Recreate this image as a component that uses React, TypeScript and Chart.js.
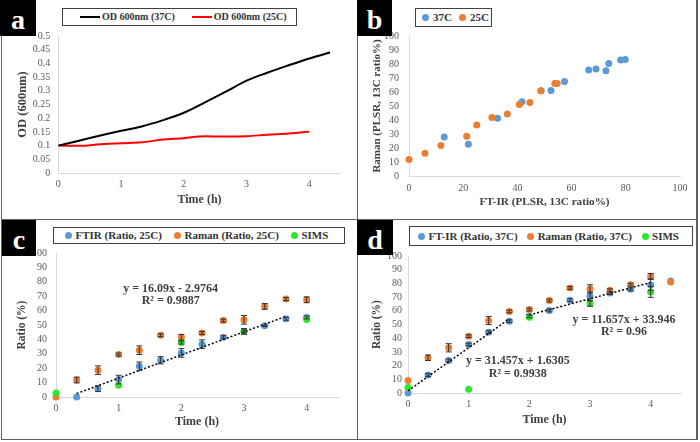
import React, { useEffect, useRef } from "react";
import { Chart, registerables } from "chart.js";

Chart.register(...registerables);

const SERIF = '"Liberation Serif", "Times New Roman", Times, serif';
Chart.defaults.font.family = SERIF;

const BLUE = "#5B9BD5";
const ORANGE = "#ED7D31";
const GREEN = "#2EE62E";
const TICK = "#595959";
const TITLE = "#404040";
const AXIS = "#D9D9D9";
const FRAME = "#606060";

// ---------- Panel a : OD 600nm growth curves ----------
const aTime37 = [0, 0.33, 0.67, 1, 1.33, 1.67, 2, 2.33, 2.67, 3, 3.33, 3.67, 4, 4.33];
const aOd37 = [0.1, 0.118, 0.137, 0.154, 0.17, 0.193, 0.22, 0.257, 0.297, 0.337, 0.366, 0.393, 0.418, 0.44];
const aTime25 = [0, 0.33, 0.67, 1, 1.33, 1.67, 2, 2.33, 2.67, 3, 3.33, 3.67, 4];
const aOd25 = [0.1, 0.099, 0.105, 0.109, 0.112, 0.122, 0.127, 0.134, 0.133, 0.134, 0.14, 0.144, 0.151];
const aLabels = ["OD 600nm (37C)", "OD 600nm (25C)"];

// ---------- Panel b : Raman vs FT-IR ----------
const b37x = [13.0, 21.9, 32.7, 41.7, 48.8, 52.4, 57.4, 66.3, 69.0, 72.7, 73.7, 78.1, 79.8];
const b37y = [27.9, 22.7, 41.3, 53.0, 60.9, 61.1, 67.5, 75.7, 76.4, 75.2, 80.4, 82.8, 83.3];
const b25x = [0, 5.9, 11.8, 21.3, 25.0, 30.6, 36.3, 40.7, 44.6, 48.6, 53.8, 54.7];
const b25y = [11.7, 16.2, 21.7, 28.4, 36.5, 41.8, 44.2, 51.1, 52.5, 60.9, 66.1, 66.1];
const bLabels = ["37C", "25C"];

// ---------- Panel c : 25C ratios ----------
const cFtirT = [0.33, 0.67, 1, 1.33, 1.67, 2, 2.33, 2.67, 3, 3.33, 3.67, 4];
const cFtir = [0, 5.8, 12.1, 21.3, 25.5, 30.6, 36.7, 41.5, 45.5, 49.4, 54.3, 55.2];
const cFtirErr = [0, 2, 3, 3, 2.5, 3, 3, 1, 2, 0.5, 1, 1];
const cRamanT = [0, 0.33, 0.67, 1, 1.33, 1.67, 2, 2.33, 2.67, 3, 3.33, 3.67, 4];
const cRaman = [0, 11.8, 18.6, 29.5, 32.5, 42.9, 41.5, 44.5, 53.1, 53.6, 62.9, 68.0, 67.5];
const cRamanErr = [0, 2, 3, 1, 3, 1, 2, 1, 1, 3, 2, 1, 2];
const cSimsT = [0, 1, 2, 3, 4];
const cSims = [2.8, 8.1, 37.8, 45.5, 53.8];
const cSimsErr = [0, 0, 1, 1, 0];
const cTrendT = [0.33, 3.67];
const cTrend = [2.4, 56.0];
const cEq = ["y = 16.09x - 2.9764", "R² = 0.9887"];
const cLabels = ["FTIR (Ratio, 25C)", "Raman (Ratio, 25C)", "SIMS"];

// ---------- Panel d : 37C ratios ----------
const dTime = [0, 0.33, 0.67, 1, 1.33, 1.67, 2, 2.33, 2.67, 3, 3.33, 3.67, 4, 4.33];
const dFtir = [0, 13.1, 23.8, 35.4, 44.4, 52.4, 56.0, 60.2, 67.7, 70.6, 73.0, 75.7, 78.9, 81.8];
const dFtirErr = [0, 1, 1, 1, 1, 1, 1, 1, 1, 3, 1, 1, 4, 0];
const dRaman = [9.2, 25.7, 33.0, 41.5, 52.9, 59.5, 60.9, 67.5, 76.7, 76.0, 75.0, 79.1, 85.2, 81.1];
const dRamanErr = [0, 2, 3, 1, 3, 1, 1, 1, 1, 3, 1, 1, 2, 0];
const dSimsT = [0, 1, 2, 3, 4];
const dSims = [4.1, 2.7, 55.3, 65.3, 73.8];
const dSimsErr = [0, 0, 0, 2, 4];
const dTrend1T = [0, 1.67];
const dTrend1 = [1.6, 54.1];
const dTrend2T = [2, 4];
const dTrend2 = [57.0, 80.6];
const dEqA = ["y = 11.657x + 33.946", "R² = 0.96"];
const dEqB = ["y = 31.457x + 1.6305", "R² = 0.9938"];
const dLabels = ["FT-IR (Ratio, 37C)", "Raman (Ratio, 37C)", "SIMS"];

type Box = { left: number; top: number; w: number; h: number };
type Area = { x0: number; x1: number; y0: number; y1: number };
type AxisCfg = { min: number; max: number; step: number; title: string; size: number; intOnly?: boolean };

const pts = (xs: number[], ys: number[]) => xs.map((x, i) => ({ x, y: ys[i] }));

const extrasPlugin = {
  id: "extras",
  afterDatasetsDraw(chart: any, _args: any, opts: any) {
    const { ctx } = chart;
    const xs = chart.scales.x;
    const ys = chart.scales.y;
    ctx.save();
    chart.data.datasets.forEach((ds: any) => {
      if (!ds.errors) return;
      ctx.strokeStyle = "#333";
      ctx.lineWidth = 1;
      ds.data.forEach((p: any, i: number) => {
        const e = ds.errors[i];
        if (!e) return;
        const px = xs.getPixelForValue(p.x);
        const t = ys.getPixelForValue(p.y + e);
        const b = ys.getPixelForValue(p.y - e);
        ctx.beginPath();
        ctx.moveTo(px, t);
        ctx.lineTo(px, b);
        ctx.moveTo(px - 3, t);
        ctx.lineTo(px + 3, t);
        ctx.moveTo(px - 3, b);
        ctx.lineTo(px + 3, b);
        ctx.stroke();
      });
    });
    const notes = (opts && opts.notes) || [];
    ctx.fillStyle = TITLE;
    ctx.font = `bold 12px ${SERIF}`;
    ctx.textAlign = "center";
    ctx.textBaseline = "middle";
    notes.forEach((n: any) => {
      ctx.fillText(n.text, xs.getPixelForValue(n.x), ys.getPixelForValue(n.y));
    });
    ctx.restore();
  },
};

function fmtNum(v: number) {
  return String(Number(Number(v).toFixed(2)));
}

function baseOptions(
  box: Box,
  area: Area,
  t: { yTitleX: number; xTitleY: number; yPad: number; xPad: number },
  xs: AxisCfg,
  ys: AxisCfg,
  notes: any[] = []
) {
  const tickFont = { family: SERIF, size: 10 };
  return {
    responsive: false,
    animation: false as const,
    layout: {
      padding: { top: area.y0 - box.top, right: box.left + box.w - area.x1, left: 0, bottom: 0 },
    },
    plugins: {
      legend: { display: false },
      tooltip: { enabled: false },
      extras: { notes },
    },
    scales: {
      x: {
        type: "linear" as const,
        position: "bottom" as const,
        min: xs.min,
        max: xs.max,
        ticks: {
          stepSize: xs.step,
          color: TICK,
          font: tickFont,
          padding: t.xPad,
          maxRotation: 0,
          autoSkip: false,
          callback: (v: any) => (xs.intOnly && !Number.isInteger(Number(v)) ? "" : fmtNum(v)),
        },
        grid: { display: false, drawTicks: false },
        border: { display: true, color: AXIS, width: 1 },
        title: {
          display: true,
          text: xs.title,
          color: TITLE,
          font: { family: SERIF, size: xs.size, weight: "bold" as const },
          padding: { top: 0, bottom: box.top + box.h - t.xTitleY - (xs.size * 1.2) / 2 },
        },
        afterFit: (s: any) => {
          s.height = box.top + box.h - area.y1;
        },
      },
      y: {
        type: "linear" as const,
        position: "left" as const,
        min: ys.min,
        max: ys.max,
        ticks: {
          stepSize: ys.step,
          color: TICK,
          font: tickFont,
          padding: t.yPad,
          autoSkip: false,
          callback: (v: any) => fmtNum(v),
        },
        grid: { display: false, drawTicks: false },
        border: { display: true, color: AXIS, width: 1 },
        title: {
          display: true,
          text: ys.title,
          color: TITLE,
          font: { family: SERIF, size: ys.size, weight: "bold" as const },
          padding: { top: t.yTitleX - box.left - (ys.size * 1.2) / 2, bottom: 0 },
        },
        afterFit: (s: any) => {
          s.width = area.x0 - box.left;
        },
      },
    },
  };
}

const dot = (color: string, order: number) => ({
  showLine: false,
  pointRadius: 3.5,
  pointHoverRadius: 3.5,
  pointBorderWidth: 0,
  backgroundColor: color,
  borderColor: color,
  order,
  clip: false as const,
});

const trend = (data: any[]) => ({
  label: "trend",
  data,
  showLine: true,
  borderColor: "#000",
  borderWidth: 1.5,
  borderDash: [2, 2],
  pointRadius: 0,
  order: -1,
});

// ---------- layouts ----------
const BOX_A: Box = { left: 2, top: 0, w: 354, h: 218 };
const AREA_A: Area = { x0: 58.3, x1: 340.7, y0: 36, y1: 173 };
const BOX_B: Box = { left: 359, top: 0, w: 337, h: 218 };
const AREA_B: Area = { x0: 409, x1: 680, y0: 36, y1: 176 };
const BOX_C: Box = { left: 2, top: 220, w: 354, h: 218 };
const AREA_C: Area = { x0: 56, x1: 338, y0: 253, y1: 397 };
const BOX_D: Box = { left: 359, top: 220, w: 337, h: 218 };
const AREA_D: Area = { x0: 408, x1: 681, y0: 256, y1: 393 };

const makeA = () => ({
  type: "scatter" as const,
  data: {
    datasets: [
      {
        label: aLabels[0],
        data: pts(aTime37, aOd37),
        showLine: true,
        borderColor: "#000000",
        borderWidth: 2,
        pointRadius: 0,
        cubicInterpolationMode: "monotone" as const,
      },
      {
        label: aLabels[1],
        data: pts(aTime25, aOd25),
        showLine: true,
        borderColor: "#FF0000",
        borderWidth: 2,
        pointRadius: 0,
        cubicInterpolationMode: "monotone" as const,
      },
    ],
  },
  options: baseOptions(
    BOX_A,
    AREA_A,
    { yTitleX: 23, xTitleY: 200, yPad: 8, xPad: 5 },
    { min: 0, max: 4.5, step: 1, title: "Time (h)", size: 12, intOnly: true },
    { min: 0, max: 0.5, step: 0.05, title: "OD (600nm)", size: 12.5 }
  ),
  plugins: [extrasPlugin],
});

const makeB = () => ({
  type: "scatter" as const,
  data: {
    datasets: [
      { label: bLabels[0], data: pts(b37x, b37y), ...dot(BLUE, 1) },
      { label: bLabels[1], data: pts(b25x, b25y), ...dot(ORANGE, 0) },
    ],
  },
  options: baseOptions(
    BOX_B,
    AREA_B,
    { yTitleX: 377, xTitleY: 202, yPad: 10, xPad: 6 },
    { min: 0, max: 100, step: 20, title: "FT-IR (PLSR, 13C ratio%)", size: 11.2 },
    { min: 0, max: 100, step: 10, title: "Raman (PLSR, 13C ratio%)", size: 11 }
  ),
  plugins: [extrasPlugin],
});

const makeC = () => ({
  type: "scatter" as const,
  data: {
    datasets: [
      { label: cLabels[0], data: pts(cFtirT, cFtir), errors: cFtirErr, ...dot(BLUE, 2) },
      { label: cLabels[1], data: pts(cRamanT, cRaman), errors: cRamanErr, ...dot(ORANGE, 1) },
      { label: cLabels[2], data: pts(cSimsT, cSims), errors: cSimsErr, ...dot(GREEN, 0) },
      trend(pts(cTrendT, cTrend)),
    ],
  },
  options: baseOptions(
    BOX_C,
    AREA_C,
    { yTitleX: 22, xTitleY: 422, yPad: 9, xPad: 5 },
    { min: 0, max: 4.5, step: 1, title: "Time (h)", size: 12, intOnly: true },
    { min: 0, max: 100, step: 10, title: "Ratio (%)", size: 11.5 },
    [
      { text: cEq[0], x: 1.83, y: 75 },
      { text: cEq[1], x: 1.83, y: 66.7 },
    ]
  ),
  plugins: [extrasPlugin],
});

const makeD = () => ({
  type: "scatter" as const,
  data: {
    datasets: [
      { label: dLabels[0], data: pts(dTime, dFtir), errors: dFtirErr, ...dot(BLUE, 2) },
      { label: dLabels[1], data: pts(dTime, dRaman), errors: dRamanErr, ...dot(ORANGE, 1) },
      { label: dLabels[2], data: pts(dSimsT, dSims), errors: dSimsErr, ...dot(GREEN, 0) },
      trend(pts(dTrend1T, dTrend1)),
      trend(pts(dTrend2T, dTrend2)),
    ],
  },
  options: baseOptions(
    BOX_D,
    AREA_D,
    { yTitleX: 377, xTitleY: 420, yPad: 6, xPad: 5 },
    { min: 0, max: 4.5, step: 1, title: "Time (h)", size: 12, intOnly: true },
    { min: 0, max: 100, step: 10, title: "Ratio (%)", size: 11.5 },
    [
      { text: dEqA[0], x: 3.56, y: 53.3 },
      { text: dEqA[1], x: 3.56, y: 44.5 },
      { text: dEqB[0], x: 1.81, y: 23.4 },
      { text: dEqB[1], x: 1.81, y: 13.6 },
    ]
  ),
  plugins: [extrasPlugin],
});

function ChartPanel({ box, make }: { box: Box; make: () => any }) {
  const ref = useRef<HTMLCanvasElement | null>(null);
  useEffect(() => {
    if (!ref.current) return;
    const chart = new Chart(ref.current, make());
    return () => chart.destroy();
  }, []);
  return (
    <canvas
      ref={ref}
      width={box.w}
      height={box.h}
      style={{ position: "absolute", left: box.left, top: box.top, width: box.w, height: box.h }}
    />
  );
}

type LegendItem = { label: string; color: string; kind: "line" | "dot" };

function Legend(props: {
  left: number;
  top: number;
  width: number;
  height: number;
  fontSize: number;
  padLeft: number;
  gap: number;
  markerGap: number;
  items: LegendItem[];
}) {
  const { left, top, width, height, fontSize, padLeft, gap, markerGap, items } = props;
  return (
    <div
      style={{
        position: "absolute",
        left,
        top,
        width,
        height,
        boxSizing: "border-box",
        border: "1.5px solid #404040",
        background: "#fff",
        display: "flex",
        alignItems: "center",
        paddingLeft: padLeft,
        gap,
        fontFamily: SERIF,
        fontWeight: "bold",
        fontSize,
        color: "#333",
        whiteSpace: "nowrap",
        lineHeight: 1,
      }}
    >
      {items.map((it) => (
        <div key={it.label} style={{ display: "flex", alignItems: "center", gap: markerGap }}>
          {it.kind === "line" ? (
            <span style={{ display: "inline-block", width: 20, height: 2, background: it.color }} />
          ) : (
            <span
              style={{ display: "inline-block", width: 7, height: 7, borderRadius: "50%", background: it.color }}
            />
          )}
          <span>{it.label}</span>
        </div>
      ))}
    </div>
  );
}

function Tag({ left, top, width, height, text }: { left: number; top: number; width: number; height: number; text: string }) {
  return (
    <div
      style={{
        position: "absolute",
        left,
        top,
        width,
        height,
        boxSizing: "border-box",
        paddingTop: 4,
        background: "#000",
        color: "#fff",
        fontFamily: SERIF,
        fontWeight: "bold",
        fontSize: 28,
        lineHeight: 1,
        display: "flex",
        alignItems: "center",
        justifyContent: "center",
      }}
    >
      {text}
    </div>
  );
}

function Line({ left, top, width, height }: { left: number; top: number; width: number; height: number }) {
  return <div style={{ position: "absolute", left, top, width, height, background: FRAME }} />;
}

export default function App() {
  return (
    <div
      style={{
        position: "fixed",
        left: 0,
        top: 0,
        width: 700,
        height: 442,
        background: "#fff",
        overflow: "hidden",
      }}
    >
      <ChartPanel box={BOX_A} make={makeA} />
      <ChartPanel box={BOX_B} make={makeB} />
      <ChartPanel box={BOX_C} make={makeC} />
      <ChartPanel box={BOX_D} make={makeD} />

      <Line left={0.5} top={0} width={1.5} height={440} />
      <Line left={696} top={0} width={1.5} height={440} />
      <Line left={0.5} top={438.5} width={697} height={1.5} />
      <Line left={0.5} top={218.5} width={697} height={1.5} />
      <Line left={356.5} top={0} width={1.5} height={440} />

      <Tag left={0} top={0} width={36} height={36} text="a" />
      <Tag left={357} top={0} width={35} height={36} text="b" />
      <Tag left={2} top={220} width={34} height={36} text="c" />
      <Tag left={357} top={220} width={36} height={35} text="d" />

      <Legend
        left={62}
        top={8}
        width={235}
        height={18}
        fontSize={10}
        padLeft={17}
        gap={17}
        markerGap={2}
        items={[
          { label: aLabels[0], color: "#000000", kind: "line" },
          { label: aLabels[1], color: "#FF0000", kind: "line" },
        ]}
      />
      <Legend
        left={415}
        top={8}
        width={77}
        height={19}
        fontSize={11}
        padLeft={6}
        gap={7}
        markerGap={4}
        items={[
          { label: bLabels[0], color: BLUE, kind: "dot" },
          { label: bLabels[1], color: ORANGE, kind: "dot" },
        ]}
      />
      <Legend
        left={53}
        top={227}
        width={292}
        height={17}
        fontSize={11}
        padLeft={11}
        gap={12}
        markerGap={3.5}
        items={[
          { label: cLabels[0], color: BLUE, kind: "dot" },
          { label: cLabels[1], color: ORANGE, kind: "dot" },
          { label: cLabels[2], color: GREEN, kind: "dot" },
        ]}
      />
      <Legend
        left={409}
        top={226}
        width={284}
        height={20}
        fontSize={11}
        padLeft={8}
        gap={9.5}
        markerGap={3.5}
        items={[
          { label: dLabels[0], color: BLUE, kind: "dot" },
          { label: dLabels[1], color: ORANGE, kind: "dot" },
          { label: dLabels[2], color: GREEN, kind: "dot" },
        ]}
      />
    </div>
  );
}
